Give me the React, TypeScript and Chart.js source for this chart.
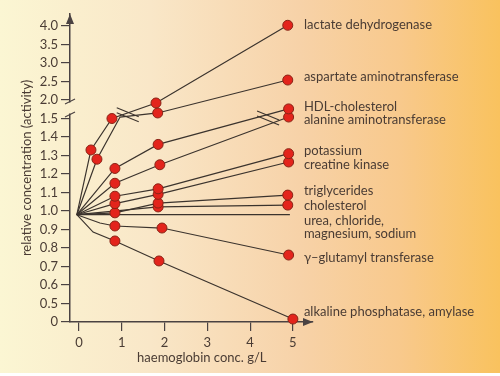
import React, { useEffect, useRef } from 'react';
import { Chart, registerables } from 'chart.js';

Chart.register(...registerables);

// ---- axis ticks (the y axis is broken: ticks are evenly spaced by index) ----
const xTickValues = [0, 1, 2, 3, 4, 5];
const yTickValues = [0, 0.5, 0.6, 0.7, 0.8, 0.9, 1.0, 1.1, 1.2, 1.3, 1.4, 1.5, 2.0, 2.5, 3.0, 3.5, 4.0];
const yTickLabels = ['0', '0.5', '0.6', '0.7', '0.8', '0.9', '1.0', '1.1', '1.2', '1.3', '1.4', '1.5', '2.0', '2.5', '3.0', '3.5', '4.0'];

// ---- series (x = haemoglobin g/L, y = relative concentration) ----
const ldhX = [-0.05, 0.28, 0.77, 1.8, 4.88];
const ldhY = [0.98, 1.33, 1.5, 1.92, 4.02];
const ldhDot = [false, true, true, true, true];

const astX = [-0.05, 0.42, 0.96, 1.84, 4.88];
const astY = [0.98, 1.28, 1.54, 1.65, 2.54];
const astDot = [false, true, false, true, true];

const hdlX = [-0.05, 0.84, 1.85, 4.9];
const hdlY = [0.98, 1.23, 1.36, 1.76];
const hdlDot = [false, true, true, true];

const altX = [-0.05, 0.84, 1.89, 4.9];
const altY = [0.98, 1.15, 1.25, 1.54];
const altDot = [false, true, true, true];

const kX = [-0.05, 0.84, 1.85, 4.9];
const kY = [0.98, 1.08, 1.12, 1.31];
const kDot = [false, true, true, true];

const ckX = [-0.05, 0.84, 1.85, 4.9];
const ckY = [0.98, 1.04, 1.09, 1.265];
const ckDot = [false, true, true, true];

const tgX = [-0.05, 0.84, 1.85, 4.88];
const tgY = [0.98, 0.99, 1.043, 1.086];
const tgDot = [false, true, true, true];

const cholX = [-0.05, 1.85, 4.88];
const cholY = [0.98, 1.022, 1.032];
const cholDot = [false, true, true];

const ureaX = [-0.05, 4.93];
const ureaY = [0.98, 0.98];
const ureaDot = [false, false];

const ggtX = [-0.05, 0.49, 0.84, 1.94, 4.9];
const ggtY = [0.98, 0.935, 0.919, 0.908, 0.762];
const ggtDot = [false, false, true, true, true];

const alpX = [-0.05, 0.33, 0.84, 1.87, 5.0];
const alpY = [0.98, 0.886, 0.838, 0.73, 0.08];
const alpDot = [false, false, true, true, true];

// ---- right-hand labels ----
const labelTexts = [
  'lactate dehydrogenase',
  'aspartate aminotransferase',
  'HDL-cholesterol',
  'alanine aminotransferase',
  'potassium',
  'creatine kinase',
  'triglycerides',
  'cholesterol',
  'urea, chloride,',
  'magnesium, sodium',
  'γ–glutamyl transferase',
  'alkaline phosphatase, amylase',
];
// label anchor heights, in axis-index units
const labelLevels = [16.05, 13.24, 11.62, 10.92, 9.24, 8.49, 7.08, 6.27, 5.46, 4.76, 3.46, 0.54];

const xTitle = 'haemoglobin conc. g/L';
const yTitle = 'relative concentration (activity)';

// positions of the "//" break symbols on lines (x, axis-index units)
const lineBreaksX = [1.14, 4.42];
const lineBreaksU = [11.2, 11.03];

// value -> broken-axis index
function toAxis(v: number): number {
  for (let i = 0; i < yTickValues.length - 1; i++) {
    const a = yTickValues[i];
    const b = yTickValues[i + 1];
    if (v <= b || i === yTickValues.length - 2) {
      return i + (v - a) / (b - a);
    }
  }
  return 0;
}

const FONT = "Lato, 'DejaVu Sans', sans-serif";
const TEXT = '#4a3c34';
const AXIS = '#4a4242';
const LINE = '#3b332d';
const DOT = '#e3241c';
const DOT_EDGE = '#8a2416';

const series = [
  [ldhX, ldhY, ldhDot],
  [astX, astY, astDot],
  [hdlX, hdlY, hdlDot],
  [altX, altY, altDot],
  [kX, kY, kDot],
  [ckX, ckY, ckDot],
  [tgX, tgY, tgDot],
  [cholX, cholY, cholDot],
  [ureaX, ureaY, ureaDot],
  [ggtX, ggtY, ggtDot],
  [alpX, alpY, alpDot],
] as [number[], number[], boolean[]][];

function makeGradient(ctx: CanvasRenderingContext2D, w: number) {
  const g = ctx.createLinearGradient(0, 0, w, 0);
  g.addColorStop(0, '#fbf6d3');
  g.addColorStop(0.3, '#f9e7c8');
  g.addColorStop(0.6, '#f7d2a8');
  g.addColorStop(0.8, '#f8c98c');
  g.addColorStop(1, '#f9c25e');
  return g;
}

const bgPlugin = {
  id: 'bg',
  beforeDraw(chart: any) {
    const { ctx, width, height } = chart;
    ctx.save();
    ctx.fillStyle = makeGradient(ctx, width);
    ctx.fillRect(0, 0, width, height);
    ctx.fillStyle = '#ffffff';
    ctx.fillRect(0, height - 3, width, 3);
    ctx.restore();
  },
};

const decoPlugin = {
  id: 'deco',
  afterDraw(chart: any) {
    const { ctx, chartArea, scales } = chart;
    const xs = scales.x;
    const ys = scales.y;
    ctx.save();
    // arrowheads
    ctx.fillStyle = AXIS;
    ctx.beginPath();
    ctx.moveTo(chartArea.left, chartArea.top);
    ctx.lineTo(chartArea.left - 4, chartArea.top + 10);
    ctx.lineTo(chartArea.left + 4, chartArea.top + 10);
    ctx.closePath();
    ctx.fill();
    ctx.beginPath();
    ctx.moveTo(chartArea.right, chartArea.bottom);
    ctx.lineTo(chartArea.right - 10, chartArea.bottom - 4);
    ctx.lineTo(chartArea.right - 10, chartArea.bottom + 4);
    ctx.closePath();
    ctx.fill();

    // y-axis break
    const yb1 = ys.getPixelForValue(11.92);
    const yb2 = ys.getPixelForValue(11.22);
    ctx.fillStyle = makeGradient(ctx, chart.width);
    ctx.fillRect(chartArea.left - 2, yb1 + 1, 4, yb2 - yb1 - 2);
    ctx.strokeStyle = AXIS;
    ctx.lineWidth = 1.2;
    [yb1, yb2].forEach((yy) => {
      ctx.beginPath();
      ctx.moveTo(chartArea.left - 5, yy + 2.5);
      ctx.lineTo(chartArea.left + 5, yy - 2.5);
      ctx.stroke();
    });

    // line breaks
    ctx.strokeStyle = LINE;
    ctx.lineWidth = 1.1;
    lineBreaksX.forEach((bx, i) => {
      const cx = xs.getPixelForValue(bx);
      const cy = ys.getPixelForValue(lineBreaksU[i]);
      [-2.5, 2.5].forEach((off) => {
        ctx.beginPath();
        ctx.moveTo(cx - 11, cy - 4.5 + off);
        ctx.lineTo(cx + 11, cy + 4.5 + off);
        ctx.stroke();
      });
    });

    // labels
    ctx.fillStyle = TEXT;
    ctx.font = `13px ${FONT}`;
    ctx.textBaseline = 'middle';
    ctx.textAlign = 'left';
    const lx = xs.getPixelForValue(5) + 11;
    labelTexts.forEach((t, i) => {
      ctx.fillText(t, lx, ys.getPixelForValue(labelLevels[i]));
    });

    // x title
    ctx.textAlign = 'center';
    ctx.font = `13px ${FONT}`;
    ctx.fillText(xTitle, xs.getPixelForValue(2.87), chartArea.bottom + 36);
    ctx.restore();
  },
};

export default function App() {
  const ref = useRef<HTMLCanvasElement | null>(null);
  useEffect(() => {
    document.body.style.margin = '0';
    const canvas = ref.current;
    if (!canvas) return;
    const datasets: any[] = [];
    series.forEach(([xs, ys, dots]) => {
      datasets.push({
        data: xs.map((x, i) => ({ x, y: toAxis(ys[i]) })),
        borderColor: LINE,
        borderWidth: 1.2,
        pointRadius: 0,
        pointHoverRadius: 0,
        showLine: true,
        tension: 0,
        fill: false,
        order: 2,
        clip: false,
      });
      datasets.push({
        data: xs.map((x, i) => ({ x, y: toAxis(ys[i]) })).filter((_, i) => dots[i]),
        showLine: false,
        pointRadius: 5,
        pointHoverRadius: 5,
        pointBackgroundColor: DOT,
        pointBorderColor: DOT_EDGE,
        pointBorderWidth: 1,
        order: 1,
        clip: false,
      });
    });
    const chart = new Chart(canvas, {
      type: 'line',
      data: { datasets },
      plugins: [bgPlugin, decoPlugin],
      options: {
        animation: false,
        responsive: false,
        maintainAspectRatio: false,
        devicePixelRatio: 1,
        layout: { padding: { top: 14, right: 187, left: 0, bottom: 0 } },
        plugins: { legend: { display: false }, tooltip: { enabled: false } },
        events: [],
        scales: {
          x: {
            type: 'linear',
            min: -0.21,
            max: 5.47,
            afterFit: (s: any) => { s.height = 54; },
            afterBuildTicks: (s: any) => { s.ticks = xTickValues.map((v) => ({ value: v })); },
            ticks: { color: TEXT, font: { family: FONT, size: 13 }, padding: 4, callback: (v: any) => String(v) },
            grid: { drawOnChartArea: false, drawTicks: true, tickLength: 9, color: AXIS, lineWidth: 1.2 },
            border: { display: true, color: AXIS, width: 1.5 },
          },
          y: {
            type: 'linear',
            min: 0,
            max: 16.65,
            afterFit: (s: any) => { s.width = 70; },
            afterBuildTicks: (s: any) => { s.ticks = yTickLabels.map((_, i) => ({ value: i })); },
            ticks: {
              color: TEXT,
              font: { family: FONT, size: 13 },
              padding: 3,
              callback: (v: any) => yTickLabels[Math.round(v)] ?? '',
            },
            grid: { drawOnChartArea: false, drawTicks: true, tickLength: 9, color: AXIS, lineWidth: 1.2 },
            border: { display: true, color: AXIS, width: 1.5 },
            title: { display: true, text: yTitle, color: TEXT, font: { family: FONT, size: 13 }, padding: { top: 19, bottom: 0 } },
          },
        },
      },
    });
    return () => chart.destroy();
  }, []);
  return (
    <div style={{ position: 'absolute', left: 0, top: 0, width: 500, height: 376 }}>
      <canvas ref={ref} width={500} height={376} />
    </div>
  );
}
